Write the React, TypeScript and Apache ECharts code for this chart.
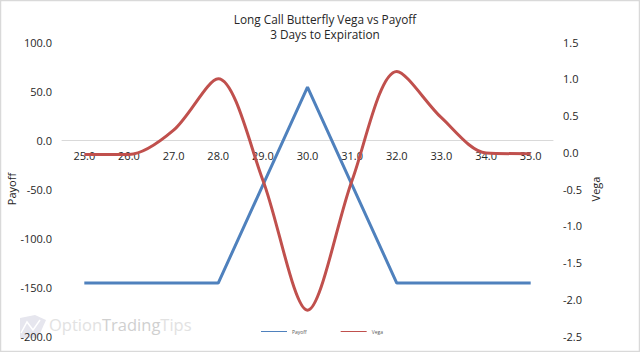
import React, { useEffect, useRef } from "react";
import * as echarts from "echarts";

const categories = ["25.0", "26.0", "27.0", "28.0", "29.0", "30.0", "31.0", "32.0", "33.0", "34.0", "35.0"];
const payoff = [-146, -146, -146, -146, -46, 54, -46, -146, -146, -146, -146];
const vega = [-0.03, -0.03, 0.3, 1.0, -0.38, -2.15, -0.38, 1.1, 0.47, -0.01, -0.02];
const titleLines = "Long Call Butterfly Vega vs Payoff\n3 Days to Expiration";
const FONT = "'Open Sans', sans-serif";
const BLUE = "#4f81bd";
const RED = "#c0504d";
const INK = "#262626";

export default function App() {
  const ref = useRef<HTMLDivElement>(null);
  useEffect(() => {
    document.body.style.margin = "0";
    const chart = echarts.init(ref.current!, undefined, { renderer: "svg" });
    chart.setOption({
      animation: false,
      backgroundColor: "#fff",
      textStyle: { fontFamily: FONT },
      title: {
        text: titleLines,
        left: 320,
        top: 6,
        textAlign: "center",
        textStyle: { fontFamily: FONT, fontSize: 11.8, fontWeight: "normal", color: INK, lineHeight: 15 },
      },
      legend: {
        data: ["Payoff", "Vega"],
        left: 256,
        top: 324,
        itemWidth: 26,
        itemHeight: 1,
        itemGap: 34,
        icon: "rect",
        textStyle: { fontSize: 5, color: "#595959", fontFamily: FONT },
      },
      grid: { left: 62, right: 87, top: 42, bottom: 16, outerBoundsMode: "none" },
      xAxis: {
        type: "category",
        data: categories,
        axisTick: { show: false },
        axisLine: { onZero: true, lineStyle: { color: "#d9d9d9", width: 1 } },
        axisLabel: { color: INK, fontSize: 11, margin: -186 },
      },
      yAxis: [
        {
          type: "value",
          min: -200,
          max: 100,
          interval: 50,
          name: "Payoff",
          nameLocation: "middle",
          nameGap: 45,
          nameMoveOverlap: false,
          nameTextStyle: { color: INK, fontSize: 11 },
          splitLine: { show: false },
          axisLine: { show: false },
          axisTick: { show: false },
          axisLabel: { color: INK, fontSize: 11, formatter: (v: number) => v.toFixed(1), margin: 10, padding: [0, 0, 2, 0] },
        },
        {
          type: "value",
          min: -2.5,
          max: 1.5,
          interval: 0.5,
          name: "Vega",
          nameLocation: "middle",
          nameGap: 37,
          nameMoveOverlap: false,
          nameTextStyle: { color: INK, fontSize: 11 },
          splitLine: { show: false },
          axisLine: { show: false },
          axisTick: { show: false },
          axisLabel: { color: INK, fontSize: 11, formatter: (v: number) => v.toFixed(1), margin: 10, padding: [0, 0, 2, 0] },
        },
      ],
      series: [
        {
          name: "Payoff",
          type: "line",
          data: payoff,
          symbol: "none",
          itemStyle: { color: BLUE },
          lineStyle: { color: BLUE, width: 3 },
        },
        {
          name: "Vega",
          type: "line",
          yAxisIndex: 1,
          data: vega,
          smooth: 0.3,
          symbol: "none",
          itemStyle: { color: RED },
          lineStyle: { color: RED, width: 3 },
        },
      ],
      graphic: [
        { type: "rect", shape: { x: 0.5, y: 0.5, width: 639, height: 351 }, style: { fill: "none", stroke: "#d9d9d9", lineWidth: 1.5 }, silent: true },
        { type: "polygon", shape: { points: [[20, 318], [35, 315], [46, 320], [38, 338], [20, 338]] }, style: { fill: "#e6e6ee" }, silent: true },
        { type: "polyline", shape: { points: [[21, 333], [27, 322], [33, 330], [40, 320]] }, style: { stroke: "#fff", lineWidth: 1.5, fill: "none" }, silent: true },
        {
          type: "text",
          x: 49,
          y: 316,
          silent: true,
          style: {
            text: "{a|Option}{b|Trading}{a|Tips}",
            rich: {
              a: { fontFamily: FONT, fontSize: 16.5, fill: "#e2e2e2", color: "#e2e2e2" },
              b: { fontFamily: FONT, fontSize: 16.5, fill: "#d0d0d0", color: "#d0d0d0" },
            },
          },
        },
      ],
    });
    return () => chart.dispose();
  }, []);
  return <div ref={ref} style={{ width: 640, height: 352 }} />;
}
